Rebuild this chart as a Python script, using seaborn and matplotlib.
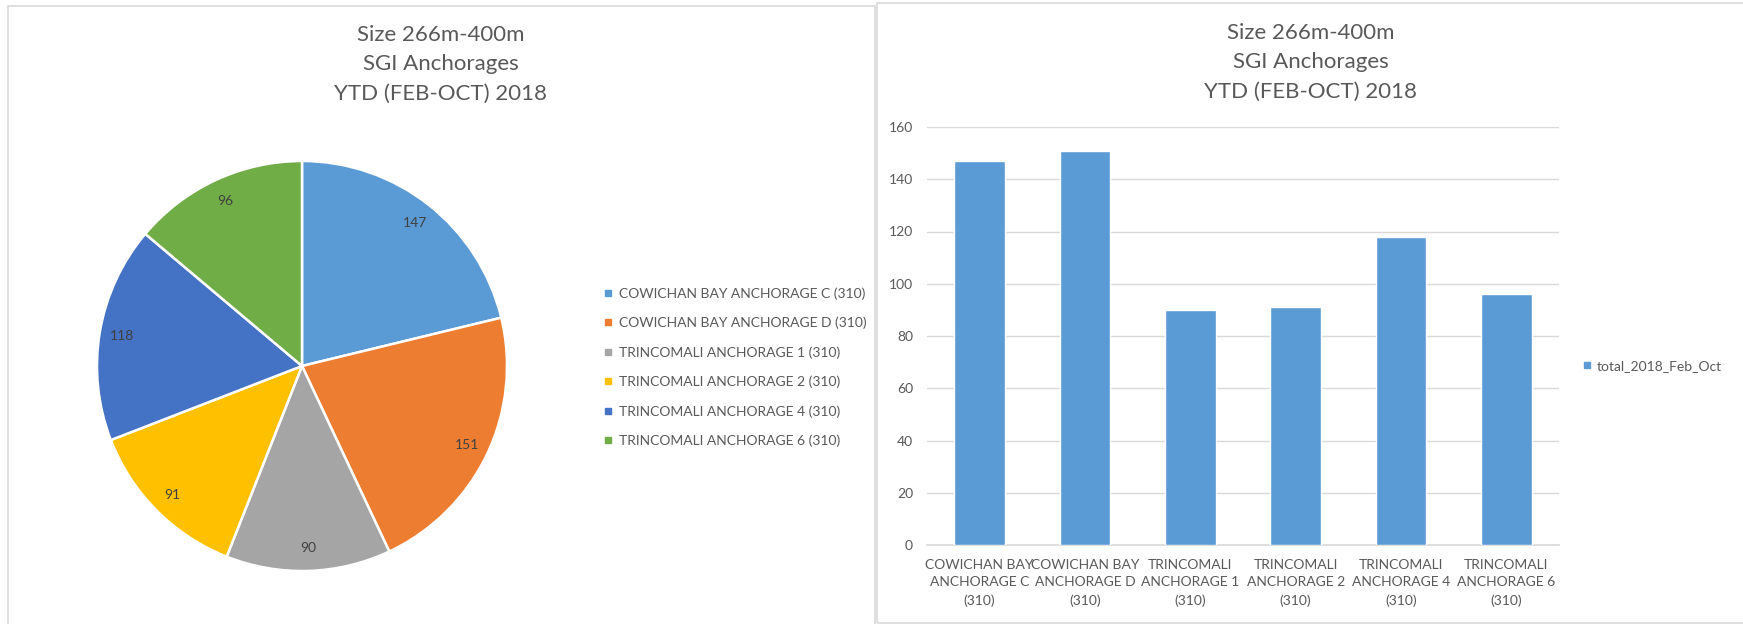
import matplotlib
matplotlib.use("Agg")
import matplotlib.pyplot as plt
import seaborn as sns
import pandas as pd
from matplotlib.lines import Line2D
from matplotlib.patches import Rectangle

# ---- data ----
categories = [
    "COWICHAN BAY ANCHORAGE C (310)",
    "COWICHAN BAY ANCHORAGE D (310)",
    "TRINCOMALI ANCHORAGE 1 (310)",
    "TRINCOMALI ANCHORAGE 2 (310)",
    "TRINCOMALI ANCHORAGE 4 (310)",
    "TRINCOMALI ANCHORAGE 6 (310)",
]
bar_tick_labels = [
    "COWICHAN BAY\nANCHORAGE C\n(310)",
    "COWICHAN BAY\nANCHORAGE D\n(310)",
    "TRINCOMALI\nANCHORAGE 1\n(310)",
    "TRINCOMALI\nANCHORAGE 2\n(310)",
    "TRINCOMALI\nANCHORAGE 4\n(310)",
    "TRINCOMALI\nANCHORAGE 6\n(310)",
]
values = [147, 151, 90, 91, 118, 96]
series_name = "total_2018_Feb_Oct"
title_lines = ["Size 266m-400m", "SGI Anchorages", "YTD (FEB-OCT) 2018"]
y_ticks = [0, 20, 40, 60, 80, 100, 120, 140, 160]

pie_colors = ["#5B9BD5", "#ED7D31", "#A5A5A5", "#FFC000", "#4472C4", "#70AD47"]
bar_color = "#5B9BD5"
text_gray = "#595959"
grid_gray = "#D9D9D9"

sns.set_theme(style="white")
plt.rcParams["font.family"] = ["Lato", "DejaVu Sans"]

W, H = 1743, 624
fig = plt.figure(figsize=(W / 100, H / 100), dpi=100)
fig.patch.set_facecolor("white")

def px_axes(left, top, width, height):
    return fig.add_axes([left / W, (H - top - height) / H, width / W, height / H])

# panel borders
fig.patches.append(Rectangle((8 / W, -0.1), (875 - 8) / W, 1.1 - 5.5 / H,
                             transform=fig.transFigure, fill=False,
                             edgecolor=grid_gray, linewidth=1.2, zorder=0))
fig.patches.append(Rectangle((877 / W, (H - 623) / H), 1.0, (623 - 3) / H,
                             transform=fig.transFigure, fill=False,
                             edgecolor=grid_gray, linewidth=1.2, zorder=0))

# ---- pie ----
R = 205
axp = px_axes(302 - R, 366 - R, 2 * R, 2 * R)
wedges, texts, autotexts = axp.pie(
    values, colors=pie_colors, startangle=90, counterclock=False,
    autopct=lambda p: f"{p * sum(values) / 100:.0f}", pctdistance=0.89,
    wedgeprops=dict(edgecolor="white", linewidth=1.8),
    textprops=dict(color="#404040", fontsize=10),
)
axp.set_xlim(-1, 1)
axp.set_ylim(-1, 1)
axp.set_aspect("equal")
axp.axis("off")

for i, t in enumerate(title_lines):
    fig.text(441 / W, 1 - (35 + 29.5 * i) / H, t, ha="center", va="center",
             fontsize=16, color=text_gray)

handles = [Line2D([0], [0], marker="s", linestyle="none", markersize=5,
                  markerfacecolor=c, markeredgecolor=c) for c in pie_colors]
fig.legend(handles, categories, loc="upper left",
           bbox_to_anchor=(604 / W, 1 - 287 / H), frameon=False,
           fontsize=10, labelcolor=text_gray, labelspacing=1.22,
           handlelength=0.6, handletextpad=0.5, borderaxespad=0, borderpad=0)

# ---- bar ----
df = pd.DataFrame({"category": bar_tick_labels, "value": values})
axb = px_axes(927, 127, 1559 - 927, 545 - 127)
sns.barplot(data=df, x="category", y="value", color=bar_color, width=0.48,
            saturation=1, ax=axb, zorder=3)
axb.set_ylim(0, 160)
axb.set_yticks(y_ticks)
axb.set_xlim(-0.5, len(values) - 0.5)
axb.yaxis.grid(True, color=grid_gray, linewidth=1)
axb.set_axisbelow(True)
axb.set_xlabel("")
axb.set_ylabel("")
for s in ["top", "right", "left"]:
    axb.spines[s].set_visible(False)
axb.spines["bottom"].set_color(grid_gray)
axb.spines["bottom"].set_linewidth(1.2)
axb.tick_params(axis="y", length=0, labelsize=10, labelcolor=text_gray, pad=10)
axb.tick_params(axis="x", which="major", length=0, labelsize=10,
                labelcolor=text_gray, pad=10)
axb.set_xticks([i - 0.5 for i in range(len(values) + 1)], minor=True)
axb.tick_params(axis="x", which="minor", length=5, color=grid_gray, width=1.2)
for lab in axb.get_xticklabels():
    lab.set_linespacing(1.55)

for i, t in enumerate(title_lines):
    fig.text(1311 / W, 1 - (33 + 29.5 * i) / H, t, ha="center", va="center",
             fontsize=16, color=text_gray)

bh = [Line2D([0], [0], marker="s", linestyle="none", markersize=5,
             markerfacecolor=bar_color, markeredgecolor=bar_color)]
fig.legend(bh, [series_name], loc="center left",
           bbox_to_anchor=(1583 / W, 1 - 366 / H), frameon=False,
           fontsize=10, labelcolor=text_gray,
           handlelength=0.6, handletextpad=0.4, borderaxespad=0, borderpad=0)

fig.savefig("out.png", dpi=100, facecolor="white")
